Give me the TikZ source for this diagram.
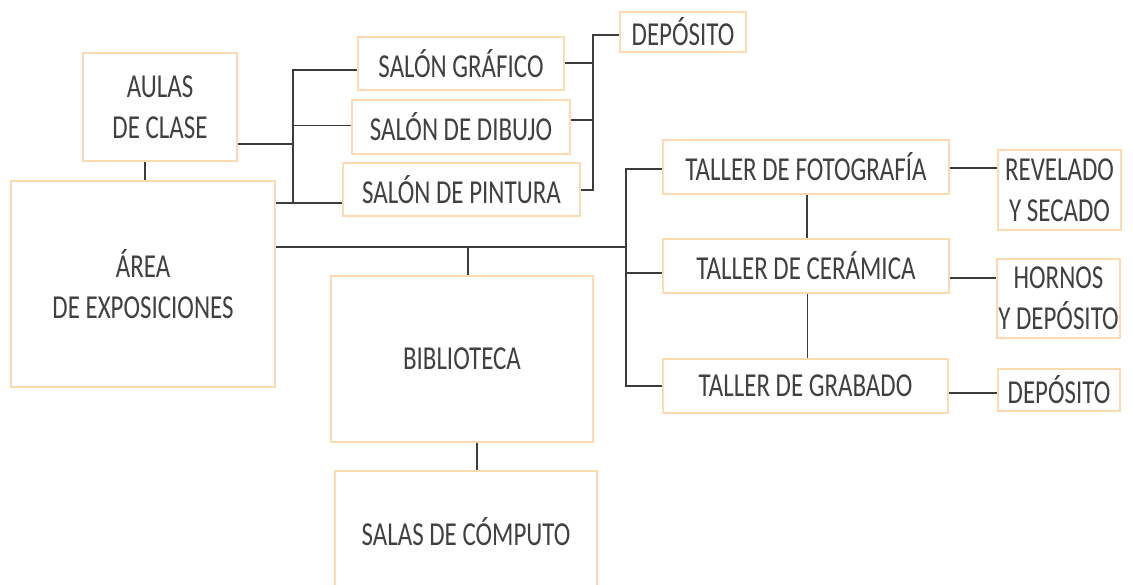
\documentclass[tikz,border=0pt]{standalone}
\usepackage{fontspec}
\setmainfont{Carlito}[FakeStretch=0.745]
\definecolor{boxc}{HTML}{FDDBB2}
\definecolor{linec}{HTML}{3C3C3C}
\definecolor{txtc}{HTML}{404040}
\begin{document}
\begin{tikzpicture}[x=1pt,y=-1pt,
  box/.style={draw=boxc,line width=1.6pt,rectangle,inner sep=0pt,align=center,
    text=txtc,font=\fontsize{33.5}{41}\selectfont},
  conn/.style={draw=linec,line width=1.4pt},
  thick conn/.style={draw=linec,line width=2.2pt},
  thin conn/.style={draw=linec,line width=1pt}]
\useasboundingbox (0,0) rectangle (1133,584);
\fill[white] (0,0) rectangle (1133,584);
% nodes
\node[box,minimum width=154pt,minimum height=108pt] (aulas) at (160,107) {AULAS\\DE CLASE};
\node[box,minimum width=264pt,minimum height=206pt] (area) at (143,284) {ÁREA\\DE EXPOSICIONES};
\node[box,minimum width=206pt,minimum height=53pt] (graf) at (461,63.5) {SALÓN GRÁFICO};
\node[box,minimum width=218pt,minimum height=54pt] (dib) at (461,127) {SALÓN DE DIBUJO};
\node[box,minimum width=237pt,minimum height=53pt] (pint) at (461.5,189.5) {SALÓN DE PINTURA};
\node[box,minimum width=126pt,minimum height=40pt] (dep1) at (683,32) {DEPÓSITO};
\node[box,minimum width=286pt,minimum height=54pt] (foto) at (806,167) {TALLER DE FOTOGRAFÍA};
\node[box,minimum width=286pt,minimum height=54pt] (ceram) at (806,266) {TALLER DE CERÁMICA};
\node[box,minimum width=285pt,minimum height=54pt] (grab) at (805.5,386) {TALLER DE GRABADO};
\node[box,minimum width=123pt,minimum height=80pt] (rev) at (1059.5,190) {REVELADO\\Y SECADO};
\node[box,minimum width=123pt,minimum height=79pt] (horn) at (1058.5,298.5) {HORNOS\\Y DEPÓSITO};
\node[box,minimum width=122pt,minimum height=42pt] (dep2) at (1059,390) {DEPÓSITO};
\node[box,minimum width=262pt,minimum height=166pt] (bib) at (462,359) {BIBLIOTECA};
\node[box,minimum width=262pt,minimum height=122pt] (salas) at (466,532) {SALAS DE CÓMPUTO};
% junction coordinates
\coordinate (ja) at (293,70);
\coordinate (jb) at (293,125);
\coordinate (jc) at (293,144);
\coordinate (jd) at (293,203);
\coordinate (ka) at (593,35);
\coordinate (kb) at (593,63);
\coordinate (kc) at (593,120);
\coordinate (kd) at (593,190);
\coordinate (ma) at (468,247);
\coordinate (mb) at (626,247);
\coordinate (ta) at (626,169);
\coordinate (tb) at (626,273);
\coordinate (tc) at (626,386);
% connectors
\draw[conn] (aulas.south -| 145,0) -- (area.north -| 145,0);
\draw[thick conn] (aulas.east |- jc) -- (jc);
\draw[conn] (graf.west |- ja) -- (ja) -- (jd);
\draw[thin conn] (jb) -- (dib.west |- jb);
\draw[thick conn] (area.east |- jd) -- (pint.west |- jd);
\draw[thick conn] (graf.east |- kb) -- (kb);
\draw[thick conn] (dib.east |- kc) -- (kc);
\draw[conn] (pint.east |- kd) -- (kd) -- (ka) -- (dep1.west |- ka);
\draw[conn] (area.east |- mb) -- (mb);
\draw[conn] (ma) -- (bib.north -| ma);
\draw[conn] (foto.west |- ta) -- (ta) -- (tc) -- (grab.west |- tc);
\draw[thick conn] (tb) -- (ceram.west |- tb);
\draw[conn] (foto.south -| 807,0) -- (ceram.north -| 807,0);
\draw[thin conn] (ceram.south -| 807,0) -- (grab.north -| 807,0);
\draw[thick conn] (foto.east |- 0,168) -- (rev.west |- 0,168);
\draw[thick conn] (ceram.east |- 0,278) -- (horn.west |- 0,278);
\draw[conn] (grab.east |- 0,393) -- (dep2.west |- 0,393);
\draw[thick conn] (bib.south -| 477,0) -- (salas.north -| 477,0);
\end{tikzpicture}
\end{document}
